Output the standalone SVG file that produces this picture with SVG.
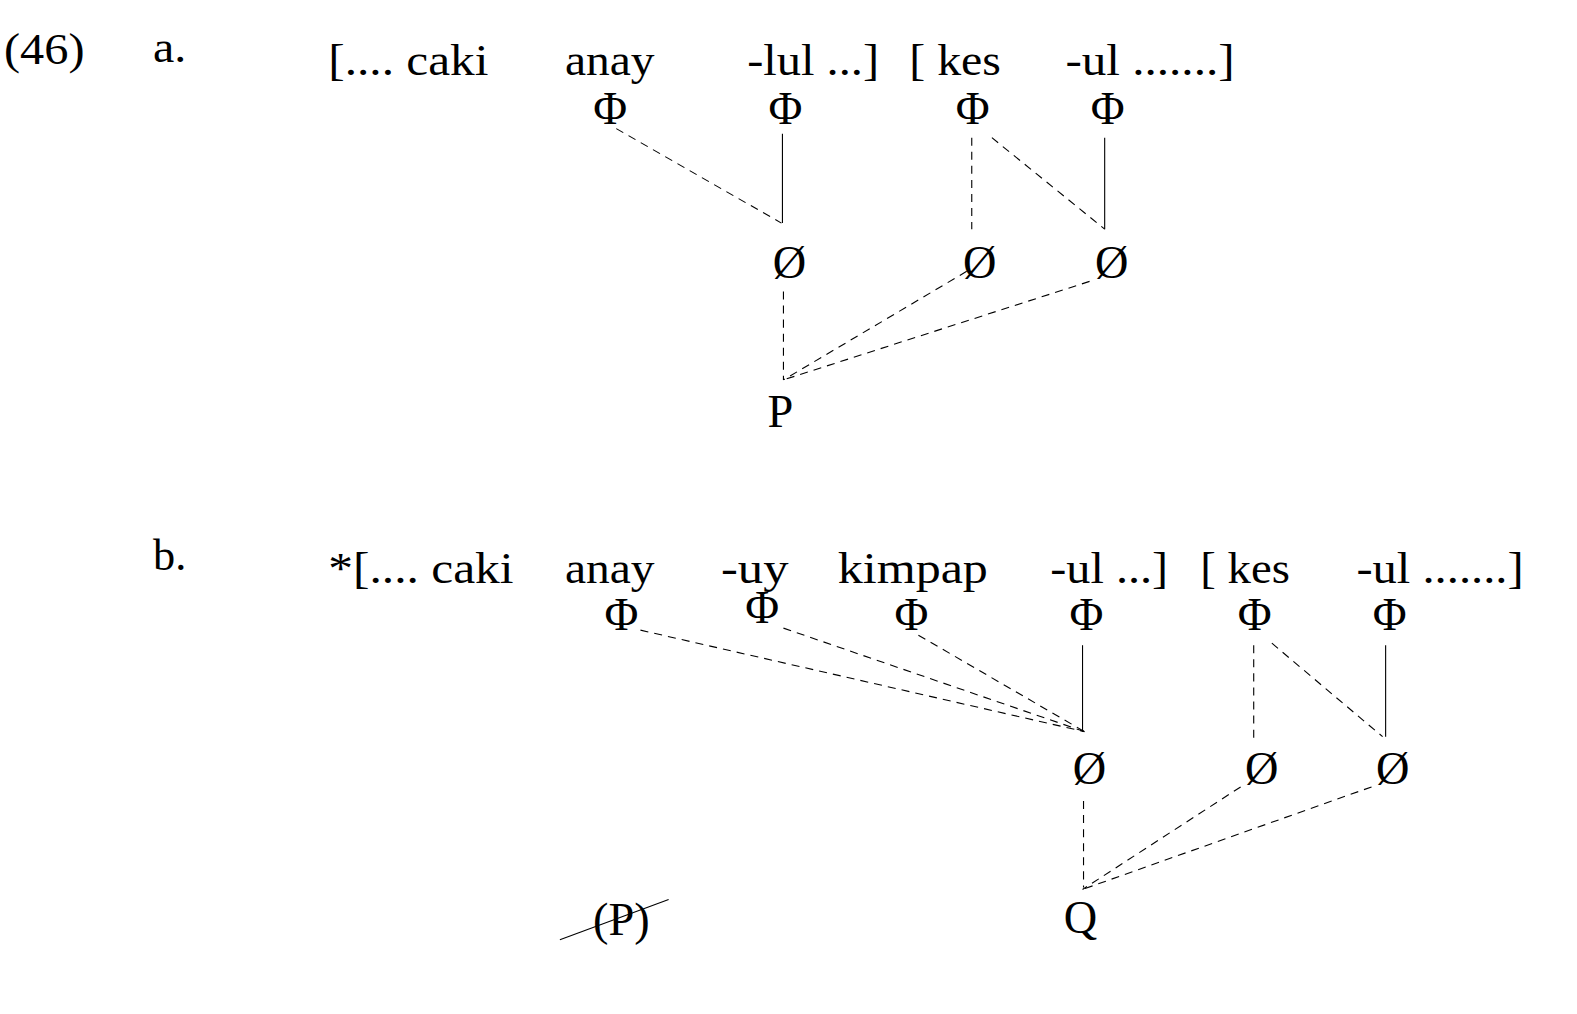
<svg xmlns="http://www.w3.org/2000/svg" width="1577" height="1014" viewBox="0 0 1577 1014">
<style>
text{font-family:"Liberation Serif","Times New Roman",serif;font-size:45px;fill:#000}
.c{text-anchor:middle;font-size:46px}
.s{stroke:#000;stroke-width:1.1;fill:none}
.d{stroke:#000;stroke-width:1.1;fill:none;stroke-dasharray:8 6}
</style>
<rect width="1577" height="1014" fill="#fff"/>
<g transform="scale(1.007,1.005)">
<g id="labels">
<text x="4" y="64" textLength="80" lengthAdjust="spacingAndGlyphs">(46)</text>
<text x="152" y="62" textLength="33" lengthAdjust="spacingAndGlyphs">a.</text>
<text x="152" y="567" textLength="33" lengthAdjust="spacingAndGlyphs">b.</text>
</g>
<g id="row-a-words">
<text x="326" y="75" textLength="159" lengthAdjust="spacingAndGlyphs">[.... caki</text>
<text x="561" y="75" textLength="89" lengthAdjust="spacingAndGlyphs">anay</text>
<text x="742" y="75" textLength="131" lengthAdjust="spacingAndGlyphs">-lul ...]</text>
<text x="903" y="75" textLength="91" lengthAdjust="spacingAndGlyphs">[ kes</text>
<text x="1058" y="75" textLength="168" lengthAdjust="spacingAndGlyphs">-ul .......]</text>
</g>
<g id="row-a-nodes">
<g id="a-phi1"><text class="c" x="606" y="123">Φ</text></g>
<g id="a-phi2"><text class="c" x="780" y="123">Φ</text></g>
<g id="a-phi3"><text class="c" x="966" y="123">Φ</text></g>
<g id="a-phi4"><text class="c" x="1100" y="123">Φ</text></g>
<g id="a-o1"><text class="c" x="784" y="277">Ø</text></g>
<g id="a-o2"><text class="c" x="973" y="277">Ø</text></g>
<g id="a-o3"><text class="c" x="1104" y="277">Ø</text></g>
<g id="a-P"><text class="c" x="775" y="425">P</text></g>
</g>
<g id="row-b-words">
<text x="326" y="580" textLength="184" lengthAdjust="spacingAndGlyphs">*[.... caki</text>
<text x="561" y="580" textLength="89" lengthAdjust="spacingAndGlyphs">anay</text>
<text x="716" y="580" textLength="67" lengthAdjust="spacingAndGlyphs">-uy</text>
<text x="832" y="580" textLength="149" lengthAdjust="spacingAndGlyphs">kimpap</text>
<text x="1043" y="580" textLength="117" lengthAdjust="spacingAndGlyphs">-ul ...]</text>
<text x="1192" y="580" textLength="89" lengthAdjust="spacingAndGlyphs">[ kes</text>
<text x="1347" y="580" textLength="166" lengthAdjust="spacingAndGlyphs">-ul .......]</text>
</g>
<g id="row-b-nodes">
<g id="b-phi1"><text class="c" x="617" y="627">Φ</text></g>
<g id="b-phi2"><text class="c" x="757" y="620">Φ</text></g>
<g id="b-phi3"><text class="c" x="905" y="627">Φ</text></g>
<g id="b-phi4"><text class="c" x="1079" y="627">Φ</text></g>
<g id="b-phi5"><text class="c" x="1246" y="627">Φ</text></g>
<g id="b-phi6"><text class="c" x="1380" y="627">Φ</text></g>
<g id="b-o1"><text class="c" x="1082" y="780">Ø</text></g>
<g id="b-o2"><text class="c" x="1253" y="780">Ø</text></g>
<g id="b-o3"><text class="c" x="1383" y="780">Ø</text></g>
<g id="b-Q"><text class="c" x="1073" y="928">Q</text></g>
<g id="b-P"><text class="c" x="617" y="930">(P)</text><line class="s" x1="556" y1="935" x2="664" y2="895"/></g>
</g>
<g id="connectors">
<line class="d" x1="612" y1="128" x2="776" y2="222"/>
<line class="s" x1="777" y1="133" x2="777" y2="222"/>
<line class="d" x1="965" y1="137" x2="965" y2="228"/>
<line class="d" x1="985" y1="137" x2="1097" y2="228"/>
<line class="s" x1="1097" y1="137" x2="1097" y2="228"/>
<line class="d" x1="778" y1="290" x2="778" y2="378"/>
<line class="d" x1="960" y1="270" x2="778" y2="378"/>
<line class="d" x1="1082" y1="280" x2="778" y2="378"/>
<line class="d" x1="636" y1="627" x2="1077" y2="728"/>
<line class="d" x1="778" y1="625" x2="1077" y2="728"/>
<line class="d" x1="912" y1="632" x2="1077" y2="728"/>
<line class="s" x1="1075" y1="642" x2="1075" y2="728"/>
<line class="d" x1="1245" y1="642" x2="1245" y2="735"/>
<line class="d" x1="1263" y1="640" x2="1373" y2="733"/>
<line class="s" x1="1376" y1="642" x2="1376" y2="733"/>
<line class="d" x1="1076" y1="797" x2="1076" y2="883"/>
<line class="d" x1="1232" y1="783" x2="1075" y2="885"/>
<line class="d" x1="1362" y1="783" x2="1075" y2="885"/>
</g>
</g>
</svg>
